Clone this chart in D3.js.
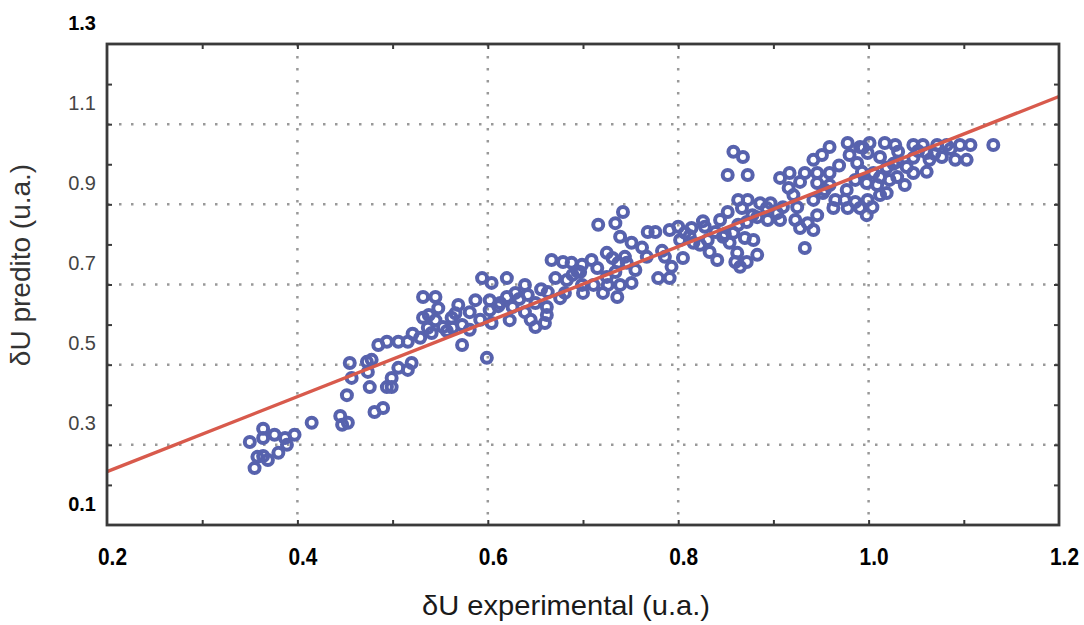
<!DOCTYPE html>
<html>
<head>
<meta charset="utf-8">
<script src="https://cdn.jsdelivr.net/npm/d3@7"></script>
<style>
  html, body { margin: 0; padding: 0; background: #ffffff; }
  svg { display: block; }
</style>
</head>
<body>
<svg id="chart" width="1084" height="625"></svg>
<script>
// Measured vs. predicted δU (arbitrary units)
const experimental = [
  0.350,0.364,0.364,0.376,0.387,0.397,0.389,0.380,0.364,0.358,0.369,0.355,0.415,0.445,0.447,0.453,
  0.481,0.490,0.452,0.457,0.455,0.473,0.478,0.474,0.476,0.494,0.499,0.499,0.506,0.516,0.520,0.485,
  0.494,0.506,0.516,0.529,0.532,0.537,
  0.532,0.545,0.545,0.541,0.548,0.553,0.562,0.563,0.569,0.573,0.581,0.587,0.581,0.573,0.594,0.604,
  0.602,0.602,0.604,0.613,0.620,0.620,0.626,0.629,0.623,0.639,0.642,0.639,0.650,0.650,0.660,0.662,
  0.663,0.662,0.599,0.667,0.671,0.679,0.681,0.688,0.689,0.700,0.699,0.709,0.711,0.721,0.726,0.737,
  0.699,0.697,0.683,
  0.716,0.742,0.734,0.739,0.751,0.744,0.731,0.725,0.755,0.734,0.725,0.739,0.751,0.736,0.767,0.768,
  0.776,0.779,0.791,0.786,0.793,0.791,0.800,0.802,0.805,0.807,0.814,0.816,0.823,0.828,0.831,0.833,
  0.841,0.839,0.844,0.847,0.854,0.852,0.858,0.862,0.860,0.865,0.872,0.863,0.867,0.872,0.873,0.870,
  0.879,0.883,0.886,0.883,0.894,0.904,0.893,0.863,
  0.858,0.868,0.852,0.873,1.019,1.030,1.047,1.064,
  0.959,0.951,0.942,0.978,0.980,0.991,0.999,1.001,1.017,1.028,1.047,1.057,1.072,1.082,1.096,1.107,
  1.131,1.031,1.012,1.030,1.061,1.077,1.091,1.103,0.988,0.993,1.005,1.019,1.040,1.047,1.061,0.917,
  0.933,0.946,0.959,0.928,0.946,0.959,0.977,0.986,0.998,1.009,1.012,1.022,1.038,0.907,0.921,0.910,
  0.925,0.942,0.952,0.965,0.975,0.986,0.999,1.012,0.963,0.978,0.991,1.004,0.907,0.923,0.936,0.946,
  0.928,0.942,0.998,0.933,
  0.521,0.538,0.557,0.566,0.592,0.611,0.633,0.645,0.656,0.676,0.694,0.715,0.746,0.762,0.783,0.812,
  0.826,0.849,0.878,0.897,0.916,0.954,0.969,0.994,1.026,1.052,1.069,1.086
];
const predicted = [
  0.307,0.340,0.317,0.325,0.317,0.325,0.300,0.280,0.272,0.270,0.262,0.242,0.355,0.372,0.350,0.355,
  0.382,0.392,0.424,0.467,0.504,0.507,0.512,0.482,0.444,0.444,0.467,0.444,0.492,0.487,0.504,0.549,
  0.557,0.557,0.557,0.567,0.617,0.592,
  0.669,0.669,0.611,0.579,0.641,0.594,0.617,0.592,0.649,0.599,0.631,0.661,0.587,0.549,0.716,0.704,
  0.661,0.636,0.604,0.654,0.716,0.669,0.644,0.679,0.611,0.699,0.674,0.631,0.654,0.594,0.604,0.624,
  0.681,0.644,0.517,0.761,0.716,0.756,0.679,0.754,0.724,0.679,0.749,0.761,0.699,0.679,0.699,0.754,
  0.699,0.731,0.711,
  0.849,0.881,0.853,0.819,0.804,0.769,0.766,0.779,0.736,0.731,0.719,0.699,0.704,0.669,0.769,0.831,
  0.831,0.716,0.716,0.769,0.744,0.836,0.844,0.811,0.766,0.829,0.841,0.804,0.799,0.844,0.811,0.781,
  0.761,0.831,0.861,0.819,0.804,0.881,0.829,0.779,0.756,0.744,0.756,0.911,0.891,0.856,0.911,0.816,
  0.811,0.774,0.903,0.868,0.861,0.878,0.891,0.849,
  1.031,1.018,0.973,0.973,0.928,0.968,1.016,1.011,
  1.043,1.023,1.011,1.053,1.023,1.043,1.028,1.053,1.053,1.048,1.048,1.048,1.048,1.048,1.048,1.048,
  1.048,1.031,1.018,1.006,1.028,1.018,1.011,1.011,1.003,0.981,0.978,0.991,0.993,0.978,0.981,0.978,
  0.978,0.978,0.978,0.956,0.953,0.948,0.936,0.961,0.953,0.948,0.968,0.961,0.948,0.966,0.923,0.893,
  0.893,0.911,0.928,0.911,0.911,0.906,0.911,0.923,0.891,0.891,0.891,0.893,0.861,0.861,0.853,0.873,
  0.841,0.836,0.873,0.791,
  0.577,0.624,0.584,0.628,0.612,0.646,0.664,0.612,0.688,0.666,0.733,0.741,0.754,0.792,0.784,0.821,
  0.858,0.826,0.873,0.903,0.941,0.936,0.997,1.041,1.001,1.033,1.026,1.038
];

// Least-squares fit, drawn across the full x range
const fitX = [0.2, 1.2];
const fitY = [0.233, 1.169];

// Axis tick values
const xLabels = [0.2, 0.4, 0.6, 0.8, 1.0, 1.2];
const yLabels = [0.1, 0.3, 0.5, 0.7, 0.9, 1.1, 1.3];
const xMinor = [0.3, 0.4, 0.5, 0.6, 0.7, 0.8, 0.9, 1.0, 1.1];
const yMinor = [0.2, 0.3, 0.4, 0.5, 0.6, 0.7, 0.8, 0.9, 1.0, 1.1, 1.2];
const xGrid = [0.4, 0.6, 0.8, 1.0];
const yGrid = [0.3, 0.5, 0.7, 0.9, 1.1];

const svg = d3.select('#chart');
const plotL = 107, plotR = 1059, plotT = 44, plotB = 525;

const x = d3.scaleLinear().domain([0.2, 1.2]).range([plotL, plotR]);
const y = d3.scaleLinear().domain([0.1, 1.3]).range([plotB, plotT]);

// Dotted grid
const grid = svg.append('g').attr('stroke', '#999').attr('stroke-width', 2.5)
  .attr('stroke-dasharray', '2.5,9.5').attr('fill', 'none');
grid.selectAll('line.v').data(xGrid).join('line').attr('class', 'v')
  .attr('x1', d => x(d)).attr('x2', d => x(d)).attr('y1', plotT).attr('y2', plotB);
grid.selectAll('line.h').data(yGrid).join('line').attr('class', 'h')
  .attr('x1', plotL).attr('x2', plotR).attr('y1', d => y(d)).attr('y2', d => y(d));

// Inner tick marks on all four sides
function innerTicks(axis, tx, ty) {
  svg.append('g').attr('transform', `translate(${tx},${ty})`)
    .call(axis.tickSize(-5).tickFormat(''))
    .call(g => g.select('.domain').remove())
    .call(g => g.selectAll('line').attr('stroke', '#3a3a3a').attr('stroke-width', 2));
}
innerTicks(d3.axisBottom(x).tickValues(xMinor), 0, plotB);
innerTicks(d3.axisTop(x).tickValues(xMinor), 0, plotT);
innerTicks(d3.axisLeft(y).tickValues(yMinor), plotL, 0);
innerTicks(d3.axisRight(y).tickValues(yMinor), plotR, 0);

// Data points: open circles
svg.append('g').selectAll('circle').data(experimental).join('circle')
  .attr('cx', d => x(d))
  .attr('cy', (d, i) => y(predicted[i]))
  .attr('r', 5.0)
  .attr('fill', 'none')
  .attr('stroke', '#5762ad')
  .attr('stroke-width', 4.0);

// Regression line
svg.append('path')
  .datum(fitX.map((d, i) => [d, fitY[i]]))
  .attr('d', d3.line().x(d => x(d[0])).y(d => y(d[1])))
  .attr('fill', 'none').attr('stroke', '#d85a4c').attr('stroke-width', 3.4);

// Frame
svg.append('rect').attr('x', plotL).attr('y', plotT)
  .attr('width', plotR - plotL).attr('height', plotB - plotT)
  .attr('fill', 'none').attr('stroke', '#3a3a3a').attr('stroke-width', 2.8);

// X tick labels (condensed digits)
svg.append('g').attr('transform', `translate(0,${plotB})`)
  .call(d3.axisBottom(x).tickValues(xLabels).tickSize(0).tickFormat(d3.format('.1f')))
  .call(g => g.select('.domain').remove())
  .call(g => g.selectAll('text')
    .attr('y', 40).attr('dy', 0).attr('dx', 5)
    .attr('font-family', '"Liberation Sans", Arial, sans-serif')
    .attr('font-size', 24).attr('font-weight', 'bold').attr('fill', '#000')
    .attr('textLength', 29).attr('lengthAdjust', 'spacingAndGlyphs'));

// Y tick labels (set slightly above their grid lines)
svg.append('g').attr('transform', `translate(${plotL},0)`)
  .call(d3.axisLeft(y).tickValues(yLabels).tickSize(0).tickFormat(d3.format('.1f')))
  .call(g => g.select('.domain').remove())
  .call(g => g.selectAll('text')
    .attr('x', -11).attr('dy', -15)
    .attr('font-family', '"Liberation Sans", Arial, sans-serif')
    .attr('font-size', 20)
    .attr('font-weight', d => (d === 0.1 || d === 1.3) ? 'bold' : 'normal')
    .attr('fill', d => (d === 0.1 || d === 1.3) ? '#000' : '#444'));

// Axis titles
svg.append('text').attr('x', 566).attr('y', 615).attr('text-anchor', 'middle')
  .attr('font-family', '"Liberation Sans", Arial, sans-serif').attr('font-size', 28)
  .attr('fill', '#1a1a1a').attr('textLength', 288).attr('lengthAdjust', 'spacingAndGlyphs')
  .text('δU experimental (u.a.)');
svg.append('text').attr('transform', 'translate(30,265) rotate(-90)').attr('text-anchor', 'middle')
  .attr('font-family', '"Liberation Sans", Arial, sans-serif').attr('font-size', 28)
  .attr('fill', '#333').text('δU predito (u.a.)');
</script>
</body>
</html>
